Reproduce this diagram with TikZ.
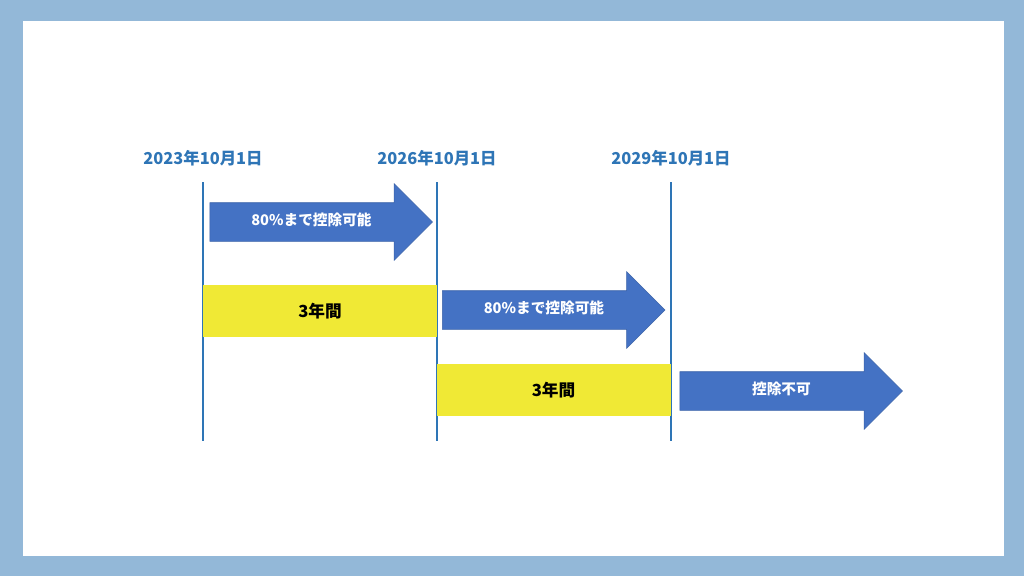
\documentclass[tikz,border=0pt]{standalone}
\usepackage{fontspec}
\usepackage{tikz}
\usetikzlibrary{shapes.arrows}
\newfontfamily\jp{Noto Sans CJK JP}
\definecolor{frameblue}{HTML}{93B8D8}
\definecolor{lineblue}{HTML}{2E75B6}
\definecolor{arrowblue}{HTML}{4472C4}
\definecolor{arrowedge}{HTML}{3A62A8}
\definecolor{bandyellow}{HTML}{F0E935}
\tikzstyle{datelabel}=[text=lineblue, font=\jp\bfseries\fontsize{12.3}{14}\selectfont, inner sep=0pt]
\tikzstyle{marker}=[draw=lineblue, line width=1.1pt]
\tikzstyle{period}=[single arrow, single arrow head extend=14.25pt, single arrow head indent=0pt, minimum width=57pt, minimum height=167pt, text height=8pt, text depth=2.5pt, inner ysep=9pt, inner xsep=0pt, fill=arrowblue, draw=arrowedge, line width=.4pt, text=white, font=\jp\bfseries\fontsize{11}{13}\selectfont, anchor=tail]
\tikzstyle{band}=[fill=bandyellow, minimum width=234*0.75pt, minimum height=52*0.75pt, inner sep=0pt, font=\jp\bfseries\fontsize{12.5}{14}\selectfont]
\begin{document}
\begin{tikzpicture}[x=0.75pt, y=-0.75pt]

	% frame
	\fill[frameblue] (0,0) rectangle (1024,576);
	\fill[white] (23,21) rectangle (1004,556);

	\node[datelabel] (d_1) at (203,158) {2023年10月1日};
	\node[datelabel] (d_2) at (437,158) {2026年10月1日};
	\node[datelabel] (d_3) at (671,158) {2029年10月1日};

	\foreach \x/\name in {203/t_1, 437/t_2, 671/t_3}{
		\coordinate (\name top) at (\x,182);
		\coordinate (\name bot) at (\x,441);
		\draw[marker] (\name top) -- (\name bot);
	}

	\node[band] (y_1) at (320,311) {3年間};
	\node[band] (y_2) at (553.5,390) {3年間};

	\node[period] (a_1) at (209.5,222) {80\%まで控除可能};
	\node[period] (a_2) at (442,310) {80\%まで控除可能};
	\node[period] (a_3) at (679.5,391) {控除不可};

\end{tikzpicture}
\end{document}
